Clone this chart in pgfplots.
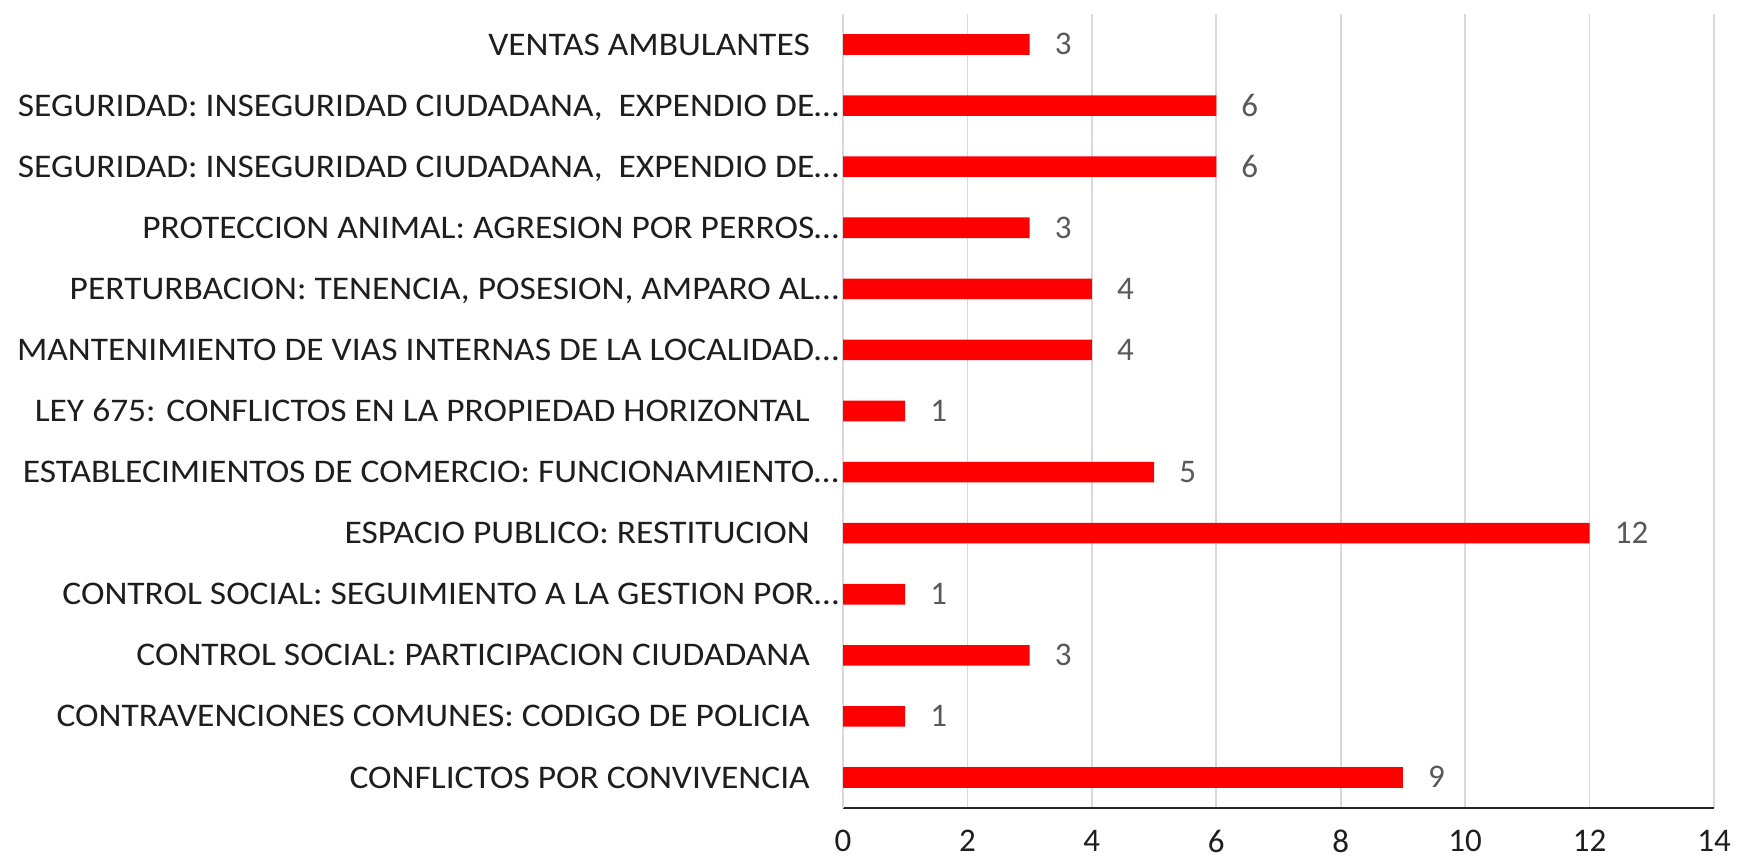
\documentclass[border=0pt]{standalone}
\usepackage{fontspec}
\setmainfont{Carlito}
\newfontfamily\catfont[FakeStretch=1.075]{Carlito}
\usepackage{pgfplots}
\pgfplotsset{compat=1.18}
\definecolor{barred}{RGB}{255,0,0}
\definecolor{gridgray}{RGB}{217,217,217}
\definecolor{labgray}{RGB}{89,89,89}
\definecolor{axisdark}{RGB}{38,38,38}
\definecolor{textdark}{RGB}{30,30,30}
\newcommand{\ts}{\kern29pt}
\begin{document}
\begin{tikzpicture}[x=1pt,y=1pt]
\path[use as bounding box] (0,0) rectangle (1737,860);
\begin{axis}[
  at={(843pt,52pt)}, anchor=south west,
  scale only axis, width=871pt, height=794pt,
  xbar, bar width=20.6pt,
  xmin=0, xmax=14, ymin=-0.5, ymax=12.5,
  xtick={0,2,...,14},
  ytick={0,...,12},
  yticklabels={
    CONFLICTOS POR CONVIVENCIA\ts,
    CONTRAVENCIONES COMUNES: CODIGO DE POLICIA\ts,
    CONTROL SOCIAL: PARTICIPACION CIUDADANA\ts,
    CONTROL SOCIAL: SEGUIMIENTO A LA GESTION POR…,
    ESPACIO PUBLICO: RESTITUCION\ts,
    ESTABLECIMIENTOS DE COMERCIO: FUNCIONAMIENTO…,
    LEY 675: CONFLICTOS EN LA PROPIEDAD HORIZONTAL\ts,
    MANTENIMIENTO DE VIAS INTERNAS DE LA LOCALIDAD…,
    {PERTURBACION: TENENCIA, POSESION, AMPARO AL…},
    PROTECCION ANIMAL: AGRESION POR PERROS…,
    {SEGURIDAD: INSEGURIDAD CIUDADANA,\ \ EXPENDIO DE…},
    {SEGURIDAD: INSEGURIDAD CIUDADANA,\ \ EXPENDIO DE…},
    VENTAS AMBULANTES\ts
  },
  major tick length=0pt,
  xmajorgrids, major grid style={gridgray, line width=1.6pt},
  axis x line*=bottom, axis y line*=left,
  x axis line style={axisdark, line width=1.8pt, -},
  y axis line style={gridgray, line width=1.6pt, -},
  /pgf/number format/assume math mode=true,
  yticklabel style={font=\catfont\fontsize{33}{40}\selectfont, text=textdark, anchor=base east, inner sep=0pt, xshift=-4pt, yshift=-10.6pt},
  xticklabel style={font=\fontsize{33}{40}\selectfont, text=textdark, anchor=north, inner sep=0pt, yshift=-22pt},
  nodes near coords,
  nodes near coords style={font=\fontsize{33}{40}\selectfont, text=labgray, anchor=base west, inner sep=0pt, xshift=25pt, yshift=-10.4pt},
]
\addplot[fill=barred, draw=none] coordinates {
  (9,0) (1,1) (3,2) (1,3) (12,4) (5,5) (1,6) (4,7) (4,8) (3,9) (6,10) (6,11) (3,12)
};
\end{axis}
\end{tikzpicture}
\end{document}
